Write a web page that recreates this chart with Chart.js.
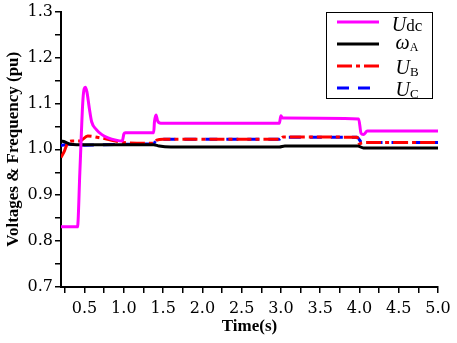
<!DOCTYPE html>
<html>
<head>
<meta charset="utf-8">
<script src="https://cdn.jsdelivr.net/npm/chart.js@4"></script>
<style>
html, body { margin: 0; padding: 0; background: #fff; }
#wrap { width: 457px; height: 343px; }
</style>
</head>
<body>
<div id="wrap"><canvas id="chart" width="457" height="343"></canvas></div>
<script>
// Udc (pu) vs time (s)
var tUdc = [0.2, 0.41, 0.44, 0.48, 0.51, 0.53, 0.56, 0.59, 0.65, 0.72, 0.8, 0.9, 0.98, 1.0, 1.02, 1.38, 1.39, 1.41, 1.43, 1.47, 2.98, 3.0, 3.02, 3.05, 3.99, 4.02, 4.05, 4.1, 5.0];
var vUdc = [0.831, 0.831, 0.95, 1.11, 1.135, 1.125, 1.09, 1.06, 1.043, 1.032, 1.025, 1.02, 1.018, 1.033, 1.036, 1.036, 1.06, 1.075, 1.062, 1.057, 1.057, 1.073, 1.068, 1.068, 1.066, 1.035, 1.032, 1.04, 1.04];

// omega A
var tWa = [0.2, 0.25, 0.32, 0.4, 1.0, 1.38, 1.45, 1.6, 2.98, 3.05, 3.98, 4.05, 4.1, 5.0];
var vWa = [1.018, 1.016, 1.011, 1.01, 1.01, 1.01, 1.007, 1.005, 1.005, 1.007, 1.007, 1.003, 1.003, 1.003];

// UB
var tUb = [0.2, 0.24, 0.28, 0.34, 0.44, 0.54, 0.7, 0.82, 0.99, 1.38, 1.42, 1.5, 2.98, 3.03, 3.97, 4.0, 4.03, 4.1, 5.0];
var vUb = [0.982, 0.995, 1.012, 1.018, 1.018, 1.029, 1.025, 1.021, 1.015, 1.013, 1.02, 1.022, 1.022, 1.027, 1.026, 1.012, 1.014, 1.015, 1.015];

// UC
var tUc = [0.2, 0.3, 0.5, 1.0, 1.38, 1.42, 2.98, 3.02, 3.97, 4.03, 5.0];
var vUc = [1.008, 1.011, 1.009, 1.011, 1.012, 1.022, 1.022, 1.026, 1.026, 1.015, 1.015];

var xTicks = [0.25, 0.5, 0.75, 1.0, 1.25, 1.5, 1.75, 2.0, 2.25, 2.5, 2.75, 3.0, 3.25, 3.5, 3.75, 4.0, 4.25, 4.5, 4.75, 5.0];
var yTicks = [0.7, 0.75, 0.8, 0.85, 0.9, 0.95, 1.0, 1.05, 1.1, 1.15, 1.2, 1.25, 1.3];

var legendMain = ['U', '\u03c9', 'U', 'U'];
var legendSub = ['dc', 'A', 'B', 'C'];

function pts(t, v) {
  return t.map(function(x, i) { return { x: x, y: v[i] }; });
}

var legendPlugin = {
  id: 'boxLegend',
  afterDraw: function(chart) {
    var ctx = chart.ctx;
    var subFonts = ['17px "Liberation Serif"', '12px "Liberation Serif"', '13px "Liberation Serif"', '13px "Liberation Serif"'];
    var subOff = [0, 2, 2, 2];
    var baseOff = [9, 5, 8, 8];
    ctx.save();
    ctx.strokeStyle = '#000';
    ctx.lineWidth = 1;
    ctx.strokeRect(326.5, 12.5, 106, 86);
    chart.data.datasets.forEach(function(ds, i) {
      var y = 22 + i * 22;
      ctx.beginPath();
      ctx.setLineDash(ds.borderDash || []);
      ctx.strokeStyle = ds.borderColor;
      ctx.lineWidth = 3;
      ctx.moveTo(337, y);
      ctx.lineTo(379, y);
      ctx.stroke();
      ctx.setLineDash([]);
      var mainFont = 'italic 20px "Liberation Serif"';
      ctx.font = mainFont;
      var w1 = ctx.measureText(legendMain[i]).width;
      ctx.font = subFonts[i];
      var w2 = ctx.measureText(legendSub[i]).width;
      var x0 = 407 - (w1 + w2) / 2;
      ctx.fillStyle = '#000';
      ctx.textBaseline = 'alphabetic';
      ctx.textAlign = 'left';
      ctx.font = mainFont;
      ctx.fillText(legendMain[i], x0, y + baseOff[i]);
      ctx.font = subFonts[i];
      ctx.fillText(legendSub[i], x0 + w1, y + baseOff[i] + subOff[i]);
    });
    ctx.restore();
  }
};

new Chart(document.getElementById('chart'), {
  type: 'line',
  data: {
    datasets: [{
      label: 'Udc',
      data: pts(tUdc, vUdc),
      borderColor: '#ff00ff',
      borderWidth: 3,
      cubicInterpolationMode: 'monotone'
    }, {
      label: 'ωA',
      data: pts(tWa, vWa),
      borderColor: '#000000',
      borderWidth: 3,
      cubicInterpolationMode: 'monotone'
    }, {
      label: 'UB',
      data: pts(tUb, vUb),
      borderColor: '#ff0000',
      borderWidth: 3,
      borderDash: [15, 4, 4, 4],
      cubicInterpolationMode: 'monotone'
    }, {
      label: 'UC',
      data: pts(tUc, vUc),
      borderColor: '#0000ff',
      borderWidth: 3,
      borderDash: [12, 9],
      cubicInterpolationMode: 'monotone'
    }]
  },
  options: {
    responsive: false,
    animation: false,
    devicePixelRatio: 1,
    layout: { padding: { top: 4, right: 19, left: 0, bottom: 0 } },
    elements: { point: { radius: 0 } },
    plugins: { legend: { display: false }, tooltip: { enabled: false } },
    scales: {
      x: {
        type: 'linear',
        min: 0.2,
        max: 5.0,
        afterBuildTicks: function(scale) {
          scale.ticks = xTicks.map(function(v) { return { value: v }; });
        },
        afterFit: function(scale) { scale.height = 56; },
        border: { color: '#000', width: 2 },
        grid: { drawOnChartArea: false, color: '#000', tickLength: 6, lineWidth: 1.5 },
        ticks: {
          autoSkip: false,
          maxRotation: 0,
          padding: 6,
          color: '#000',
          font: { family: 'DejaVu Serif', size: 16 },
          callback: function(v) {
            return Math.abs(v * 2 - Math.round(v * 2)) < 1e-6 ? v.toFixed(1) : '';
          }
        },
        title: {
          display: true,
          text: 'Time(s)',
          color: '#000',
          font: { family: 'Liberation Serif', size: 17, weight: 'bold' },
          padding: { top: 0, bottom: 6 }
        }
      },
      y: {
        min: 0.7,
        max: 1.3,
        afterBuildTicks: function(scale) {
          scale.ticks = yTicks.map(function(v) { return { value: v }; });
        },
        afterFit: function(scale) { scale.width = 61; },
        border: { color: '#000', width: 2 },
        grid: { drawOnChartArea: false, color: '#000', tickLength: 6, lineWidth: 1.5 },
        ticks: {
          autoSkip: false,
          padding: 2,
          color: '#000',
          font: { family: 'DejaVu Serif', size: 16 },
          callback: function(v) {
            return Math.abs(v * 10 - Math.round(v * 10)) < 1e-6 ? v.toFixed(1) : '';
          }
        },
        title: {
          display: true,
          text: 'Voltages & Frequency (pu)',
          color: '#000',
          font: { family: 'Liberation Serif', size: 17, weight: 'bold' },
          padding: { top: 3, bottom: 0 }
        }
      }
    }
  },
  plugins: [legendPlugin]
});
</script>
</body>
</html>
